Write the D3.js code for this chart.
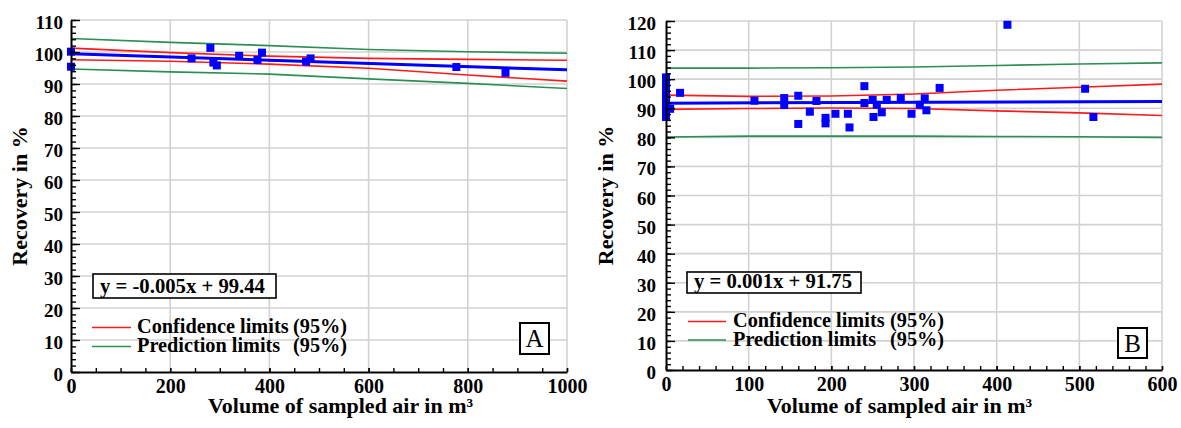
<!DOCTYPE html>
<html>
<head>
<meta charset="utf-8">
<script src="https://cdn.jsdelivr.net/npm/d3@7"></script>
<style>
  html, body { margin: 0; padding: 0; background: #fff; }
  svg { display: block; }
  svg text { font-family: "Liberation Serif", "Times New Roman", "DejaVu Serif", serif; font-weight: bold; fill: #000; }
  svg text.letter { font-weight: normal; }
</style>
</head>
<body>
<svg id="chart" width="1181" height="428"></svg>
<script>
// ---- Panel A: recovery vs. sampled volume ----
const volumeA   = [0, 0, 243, 281, 287, 294, 339, 376, 385, 474, 483, 777, 876];
const recoveryA = [100.1, 95.4, 98.0, 101.3, 96.7, 95.8, 98.8, 97.5, 99.8, 97.0, 98.0, 95.3, 93.5];
const slopeA = -0.005;
const interceptA = 99.44;
const limitVolA   = [0, 200, 400, 600, 800, 1000];
const confUpperA  = [101.2, 99.8, 98.7, 98.0, 97.7, 97.4];
const confLowerA  = [97.6, 97.1, 96.2, 94.9, 92.8, 90.9];
const predUpperA  = [104.2, 103.0, 102.0, 100.8, 100.1, 99.6];
const predLowerA  = [94.7, 93.8, 93.1, 91.6, 90.2, 88.6];
const xTicksA = [0, 200, 400, 600, 800, 1000];
const yTicksA = [0, 10, 20, 30, 40, 50, 60, 70, 80, 90, 100, 110];

// ---- Panel B ----
const volumeB   = [0, 0, 0, 0, 0, 0, 0, 0, 5, 17, 107, 143, 143, 160, 160, 174, 182, 193, 193, 205,
                   220, 222, 240, 240, 250, 251, 255, 261, 267, 284, 297, 307, 313, 315, 331, 413, 507, 517];
const recoveryB = [100.6, 98.5, 96.3, 94.0, 92.0, 90.0, 88.3, 87.0, 89.8, 95.3, 92.6, 93.5, 91.1, 94.3, 84.6,
                   88.8, 92.5, 86.7, 84.8, 88.1, 88.1, 83.4, 97.6, 91.8, 92.9, 87.0, 91.2, 88.6, 92.9, 93.5,
                   88.1, 91.2, 93.4, 89.3, 97.0, 118.7, 96.7, 87.0];
const slopeB = 0.001;
const interceptB = 91.75;
const limitVolB   = [0, 100, 200, 300, 400, 500, 600];
const confUpperB  = [94.5, 94.1, 94.2, 94.9, 96.2, 97.2, 98.3];
const confLowerB  = [89.6, 89.9, 90.1, 89.9, 89.1, 88.4, 87.5];
const predUpperB  = [103.8, 103.8, 103.9, 104.2, 104.7, 105.2, 105.6];
const predLowerB  = [80.1, 80.4, 80.4, 80.4, 80.3, 80.2, 80.0];
const xTicksB = [0, 100, 200, 300, 400, 500, 600];
const yTicksB = [0, 10, 20, 30, 40, 50, 60, 70, 80, 90, 100, 110, 120];

const legendLabels = ["Confidence limits", "Prediction limits"];
const legendSuffix = "(95%)";
const xTitle = "Volume of sampled air in m\u00B3";
const yTitle = "Recovery in %";

const BLUE = "#0000ff", RED = "#ff1a1a", GREEN = "#2b8f55", GRID = "#d2d2d2";

const svg = d3.select("#chart");

function drawPanel(p) {
  const x = d3.scaleLinear().domain([0, p.xTicks[p.xTicks.length - 1]]).range([p.left, p.right]);
  const y = d3.scaleLinear().domain([0, p.yTicks[p.yTicks.length - 1]]).range([p.bottom, p.top]);
  const g = svg.append("g");

  // grid
  g.append("g").selectAll("line").data(p.yTicks.slice(1)).join("line")
    .attr("x1", p.left).attr("x2", p.right)
    .attr("y1", d => y(d)).attr("y2", d => y(d))
    .attr("stroke", GRID).attr("stroke-width", 1.6);
  g.append("g").selectAll("line").data(p.xTicks.slice(1)).join("line")
    .attr("y1", p.top).attr("y2", p.bottom)
    .attr("x1", d => x(d)).attr("x2", d => x(d))
    .attr("stroke", GRID).attr("stroke-width", 1.6);

  // confidence / prediction limits
  const lim = (vals) => d3.line().x((d, i) => x(p.limitVol[i])).y(d => y(d))(vals);
  [[p.predUpper, GREEN], [p.predLower, GREEN], [p.confUpper, RED], [p.confLower, RED]]
    .forEach(([vals, col]) => {
      g.append("path").attr("d", lim(vals)).attr("fill", "none")
        .attr("stroke", col).attr("stroke-width", 1.6);
    });

  // regression line
  const xd = x.domain();
  g.append("line")
    .attr("x1", x(xd[0])).attr("y1", y(p.intercept + p.slope * xd[0]))
    .attr("x2", x(xd[1])).attr("y2", y(p.intercept + p.slope * xd[1]))
    .attr("stroke", BLUE).attr("stroke-width", 3);

  // observations
  g.append("g").selectAll("rect").data(p.vol).join("rect")
    .attr("x", (d) => x(d) - 4)
    .attr("y", (d, i) => y(p.rec[i]) - 4)
    .attr("width", 8).attr("height", 8)
    .attr("fill", BLUE);

  // axes: minor ticks first, then labelled major ticks
  const yMinor = d3.range(0, y.domain()[1] + 0.01, 2);
  const xMinor = d3.range(0, x.domain()[1] + 0.01, p.xMinorStep);

  g.append("g").attr("transform", `translate(${p.left},0)`)
    .call(d3.axisLeft(y).tickValues(yMinor).tickSize(-5).tickSizeOuter(0).tickFormat(""))
    .call(s => s.select(".domain").remove())
    .selectAll("line").attr("stroke", "#000").attr("stroke-width", 1.4);
  g.append("g").attr("transform", `translate(0,${p.bottom})`)
    .call(d3.axisBottom(x).tickValues(xMinor).tickSize(-4).tickSizeOuter(0).tickFormat(""))
    .call(s => s.select(".domain").remove())
    .selectAll("line").attr("stroke", "#000").attr("stroke-width", 1.4);

  const ya = g.append("g").attr("transform", `translate(${p.left},0)`)
    .call(d3.axisLeft(y).tickValues(p.yTicks).tickFormat(d3.format("d"))
      .tickSize(-9).tickSizeOuter(0).tickPadding(p.yPad));
  const xa = g.append("g").attr("transform", `translate(0,${p.bottom})`)
    .call(d3.axisBottom(x).tickValues(p.xTicks).tickFormat(d3.format("d"))
      .tickSize(-4).tickSizeOuter(0).tickPadding(7));
  [ya, xa].forEach(a => {
    a.attr("font-family", null).attr("font-size", null);
    a.select(".domain").attr("stroke", "#000").attr("stroke-width", 2);
    a.selectAll(".tick line").attr("stroke", "#000").attr("stroke-width", 1.4);
  });
  ya.selectAll("text").style("font-size", "19px").attr("dy", "0.45em");
  xa.selectAll("text").style("font-size", "20px");

  // axis titles
  g.append("text")
    .attr("x", p.xTitleX).attr("y", 413)
    .style("font-size", "22px")
    .text(xTitle);
  g.append("text")
    .attr("transform", `translate(${p.yTitleX},${(p.top + p.bottom) / 2}) rotate(-90)`)
    .attr("text-anchor", "middle")
    .style("font-size", "22px")
    .text(yTitle);

  // regression equation
  const eq = p.eqBox;
  g.append("rect").attr("x", eq[0]).attr("y", eq[1]).attr("width", eq[2]).attr("height", eq[3])
    .attr("fill", "#fff").attr("stroke", "#000").attr("stroke-width", 1.6);
  g.append("text").attr("x", eq[0] + 7).attr("y", eq[1] + eq[3] - 5.5)
    .style("font-size", "20.7px")
    .text(`y = ${p.slope}x + ${p.intercept}`);

  // legend
  const L = p.legend;
  [RED, GREEN].forEach((col, i) => {
    const ly = L.y[i];
    g.append("line").attr("x1", L.x0).attr("x2", L.x1).attr("y1", ly).attr("y2", ly)
      .attr("stroke", col).attr("stroke-width", 1.6);
    g.append("text").attr("x", L.tx).attr("y", ly + 5.5)
      .style("font-size", "20.3px")
      .text(legendLabels[i]);
    g.append("text").attr("x", L.sx).attr("y", ly + 5.5)
      .style("font-size", "20.3px")
      .text(legendSuffix);
  });

  // panel letter
  const b = p.letterBox;
  g.append("rect").attr("x", b[0]).attr("y", b[1]).attr("width", b[2]).attr("height", b[3])
    .attr("fill", "#fff").attr("stroke", "#000").attr("stroke-width", 2);
  g.append("text").attr("class", "letter")
    .attr("x", b[0] + b[2] / 2).attr("y", b[1] + b[3] / 2 + 8.5)
    .attr("text-anchor", "middle")
    .style("font-size", "25px")
    .text(p.letter);
}

drawPanel({
  vol: volumeA, rec: recoveryA, slope: slopeA, intercept: interceptA,
  limitVol: limitVolA, confUpper: confUpperA, confLower: confLowerA,
  predUpper: predUpperA, predLower: predLowerA,
  xTicks: xTicksA, yTicks: yTicksA, xMinorStep: 50,
  left: 71, right: 567, top: 20, bottom: 372, yPad: 8,
  xTitleX: 208, yTitleX: 27,
  eqBox: [93, 274, 183, 24],
  legend: { x0: 92, x1: 131, y: [327.5, 346.5], tx: 137, sx: 293 },
  letterBox: [520, 323, 29, 31], letter: "A"
});

drawPanel({
  vol: volumeB, rec: recoveryB, slope: slopeB, intercept: interceptB,
  limitVol: limitVolB, confUpper: confUpperB, confLower: confLowerB,
  predUpper: predUpperB, predLower: predLowerB,
  xTicks: xTicksB, yTicks: yTicksB, xMinorStep: 20,
  left: 666, right: 1162, top: 21, bottom: 370, yPad: 10,
  xTitleX: 767, yTitleX: 613,
  eqBox: [687, 272, 174, 21],
  legend: { x0: 688, x1: 726, y: [321.5, 340], tx: 733, sx: 890 },
  letterBox: [1118, 328, 29, 30], letter: "B"
});
</script>
</body>
</html>
